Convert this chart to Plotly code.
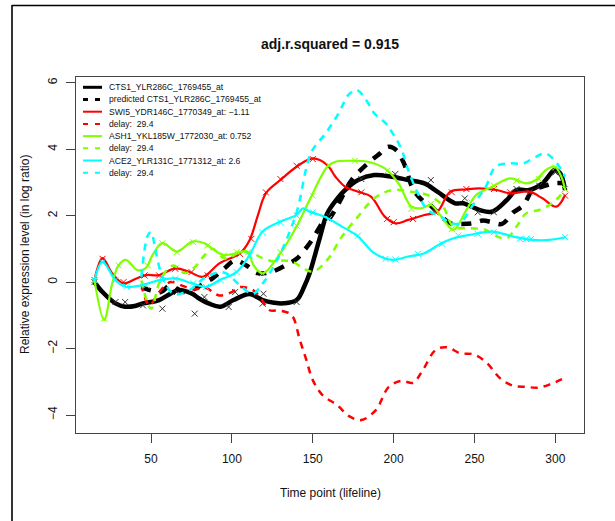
import plotly.graph_objects as go

# ---------------- data ----------------
cts1_t = [15, 20, 28, 34, 40, 45, 55, 62, 67, 75, 80, 86, 93, 101, 111, 119, 126, 132, 140, 145, 148, 154, 159, 165, 170, 178, 188, 199, 209, 219, 227, 238, 243, 253, 261, 270, 276, 284, 292, 299.6, 303, 306]
cts1_v = [0.0, -0.3, -0.64, -0.74, -0.72, -0.64, -0.54, -0.35, -0.24, -0.34, -0.5, -0.65, -0.74, -0.54, -0.36, -0.54, -0.62, -0.64, -0.54, -0.1, 0.26, 1.27, 2.07, 2.5, 2.77, 3.07, 3.22, 3.17, 3.07, 2.97, 2.72, 2.37, 2.37, 2.17, 2.12, 2.47, 2.77, 2.77, 2.97, 3.37, 3.27, 2.77]
cts1_obs_t = [15, 28, 34, 45, 57, 66, 77, 83, 98, 102, 119, 119.5, 140, 160, 180, 201, 223, 244, 252, 262, 276, 290, 300, 306]
cts1_obs_v = [0.0, -0.6, -0.6, -0.7, -0.8, -0.3, -0.95, -0.45, -0.75, -0.3, -0.65, -0.35, -0.6, 2.0, 3.1, 3.25, 3.07, 2.52, 2.1, 2.1, 2.8, 2.9, 3.3, 2.8]

pred_t = [44, 50, 56, 62, 70, 77, 84, 88, 95, 102, 109, 116, 124, 133, 140, 145, 150, 156, 160, 166, 174, 184, 191, 197, 202, 207, 212, 218, 223, 229, 235, 242, 249, 255, 261, 267, 274, 280, 286, 292, 299, 306]
pred_v = [-0.15, -0.25, -0.3, -0.1, -0.3, -0.2, 0.0, 0.11, 0.4, 0.65, 0.5, 0.27, 0.3, 0.5, 0.7, 0.97, 1.3, 1.77, 1.9, 2.37, 3.07, 3.57, 3.85, 4.07, 3.95, 3.5, 2.8, 2.45, 2.3, 2.0, 1.77, 1.75, 1.77, 1.85, 1.8, 1.75, 2.1, 2.3, 2.77, 2.87, 2.97, 2.97]

swi5_t = [15, 20, 26, 33, 41, 47, 55, 65, 73.5, 82, 92.5, 105, 111, 116, 121, 130, 140, 150, 159, 164, 170, 178, 186, 194.5, 201, 209, 219, 227, 235, 245, 253, 263.5, 272, 284, 292, 300.6, 306]
swi5_v = [0.06, 0.72, 0.26, -0.04, 0.11, 0.21, 0.21, 0.41, 0.31, 0.16, 0.57, 0.87, 1.27, 2.0, 2.67, 3.07, 3.47, 3.72, 3.52, 3.17, 2.87, 2.72, 2.57, 1.97, 1.77, 1.87, 2.02, 2.12, 2.72, 2.79, 2.82, 2.77, 2.67, 2.72, 2.52, 2.27, 2.62]
swi5_obs_t = [15, 20, 33, 46, 55, 65, 75, 85, 105, 112, 121, 130, 140, 150, 160, 170, 180, 196, 200, 212, 226, 236, 245, 262, 272, 284, 306]
swi5_obs_v = [0.06, 0.7, 0.0, 0.2, 0.2, 0.4, 0.3, 0.2, 0.85, 1.3, 2.7, 3.1, 3.5, 3.7, 3.5, 2.85, 2.7, 1.9, 1.8, 1.9, 2.1, 2.7, 2.8, 2.8, 2.7, 2.7, 2.6]

swi5_delay_t = [44, 49, 55, 62, 70, 76, 84, 92, 100, 105, 113, 118, 123, 130, 137, 142, 146, 150, 156, 165, 173, 180, 189, 197, 205, 212, 218, 226, 233, 241, 249, 257, 266, 274, 282, 289, 297, 305]
swi5_delay_v = [-0.07, -0.7, -0.3, 0.0, -0.12, -0.22, -0.18, -0.4, -0.3, -0.15, -0.24, -0.5, -0.84, -0.86, -1.0, -1.74, -2.34, -2.95, -3.40, -3.70, -4.05, -4.15, -3.85, -3.15, -2.97, -3.03, -2.65, -2.04, -1.96, -2.14, -2.17, -2.40, -2.90, -3.12, -3.15, -3.18, -3.07, -2.90]

ash1_t = [15, 21, 26, 30, 34.4, 41.6, 46.7, 51, 57, 66, 75.6, 83, 86, 94.5, 103, 109, 114, 119, 130, 140, 148, 159, 164, 174, 184, 194.5, 203, 211, 217, 223, 229.5, 237, 245, 251, 261, 272, 282, 288, 294, 299.6, 303.7, 306]
ash1_v = [0.06, -1.14, -0.04, 0.51, 0.67, 0.36, 0.42, 0.82, 1.17, 0.92, 1.22, 1.17, 1.07, 0.82, 0.87, 0.92, 0.46, 0.26, 0.87, 1.67, 2.47, 3.47, 3.62, 3.65, 3.62, 3.42, 2.97, 2.27, 2.22, 2.32, 1.97, 1.57, 2.17, 2.62, 2.87, 3.12, 2.97, 3.07, 3.37, 3.47, 3.17, 2.77]
ash1_obs_t = [15, 21, 30, 48, 57, 66, 76, 85, 95, 103, 110, 119, 130, 140, 150, 160, 176, 196, 211, 223, 236, 248, 262, 276, 290, 300, 306]
ash1_obs_v = [0.06, -1.1, 0.5, 0.5, 1.17, 0.9, 1.2, 1.1, 0.8, 0.9, 0.9, 0.26, 0.9, 1.7, 2.6, 3.5, 3.65, 3.35, 2.2, 2.35, 1.6, 2.4, 2.9, 3.05, 3.1, 3.45, 2.8]

ash1_delay_t = [44, 50, 55, 60, 64, 71, 77, 82, 88, 96, 105, 112, 119, 126, 132, 138, 143, 150, 159, 168, 178, 188, 199, 211, 221, 230, 237, 247, 257, 264, 270, 276, 282, 290, 298, 306]
ash1_delay_v = [0.05, -0.8, -0.03, 0.38, 0.5, 0.27, 0.45, 0.75, 1.0, 0.7, 0.9, 0.88, 0.72, 0.62, 0.65, 0.6, 0.45, 0.31, 0.67, 1.37, 1.97, 2.52, 2.77, 2.72, 2.62, 2.32, 1.67, 1.62, 1.57, 1.37, 1.32, 1.67, 2.07, 2.17, 2.37, 2.77]

ace2_t = [15, 20, 28, 34.4, 44.7, 55, 65, 75.6, 84, 92.5, 103, 111, 119, 130, 140, 144, 148, 157, 168, 178, 188, 199, 209, 219, 229.5, 237, 247, 261, 274, 286, 296.5, 306]
ace2_v = [0.06, 0.61, 0.06, -0.14, -0.09, 0.06, 0.11, -0.04, -0.14, 0.06, 0.31, 0.82, 1.52, 1.82, 2.02, 2.22, 2.12, 1.97, 1.67, 1.37, 0.87, 0.67, 0.77, 0.87, 1.17, 1.32, 1.42, 1.52, 1.37, 1.27, 1.27, 1.35]
ace2_obs_t = [15, 20, 28, 35, 47, 57, 65, 76, 84, 93, 103, 111, 119, 130, 140, 150, 160, 178, 195, 201, 215, 230, 240, 252, 262, 278, 282, 285, 306]
ace2_obs_v = [0.06, 0.6, 0.06, -0.14, -0.1, 0.06, 0.1, -0.04, -0.15, 0.06, 0.3, 0.8, 1.5, 1.8, 2.0, 2.1, 1.9, 1.4, 0.7, 0.68, 0.85, 1.15, 1.4, 1.45, 1.5, 1.3, 1.3, 1.3, 1.35]

ace2_delay_t = [44, 48, 50, 53, 57, 64, 74, 84, 95, 105, 113, 118, 122, 130, 140, 149, 158, 166, 172, 177, 183, 188, 195, 200, 205, 209, 215, 221, 229, 236, 241, 249, 257, 263, 272, 280, 288, 294, 301, 306]
ace2_delay_v = [0.16, 1.4, 1.5, 0.9, 0.16, -0.36, -0.23, 0.16, 0.29, -0.1, -0.36, -0.1, 0.16, 0.87, 2.1, 3.9, 4.48, 5.08, 5.63, 5.78, 5.48, 5.08, 4.78, 4.43, 3.98, 3.37, 2.67, 2.17, 1.97, 1.77, 1.77, 2.32, 2.87, 3.47, 3.57, 3.57, 3.77, 3.87, 3.57, 3.17]

legend_labels = ["CTS1_YLR286C_1769455_at", "predicted CTS1_YLR286C_1769455_at",
                 "SWI5_YDR146C_1770349_at: \u22121.11", "delay:  29.4",
                 "ASH1_YKL185W_1772030_at: 0.752", "delay:  29.4",
                 "ACE2_YLR131C_1771312_at: 2.6", "delay:  29.4"]
title_text = "adj.r.squared = 0.915"
x_title = "Time point (lifeline)"
y_title = "Relative expression level (in log ratio)"
x_ticks = [50, 100, 150, 200, 250, 300]
y_ticks = [-4, -2, 0, 2, 4, 6]

# ---------------- styling ----------------
BLACK = "#000000"
RED = "#FF0000"
GREEN = "#7FFF00"
CYAN = "#00FFFF"
FONT = "Liberation Sans, Arial, sans-serif"

W, H = 615, 521
ML, MT = 76, 77
PW, PH = 508, 356
MR = W - ML - PW
MB = H - MT - PH


def px_x(p):
    return (p - ML) / PW


def px_y(p):
    return (H - MB - p) / PH


fig = go.Figure()


def add_line(t, v, color, width, dash="solid"):
    fig.add_trace(go.Scatter(x=t, y=v, mode="lines",
                             line=dict(color=color, width=width, dash=dash, shape="spline", smoothing=1.0),
                             showlegend=False, hoverinfo="skip"))


def add_obs(t, v, color):
    fig.add_trace(go.Scatter(x=t, y=v, mode="markers",
                             marker=dict(symbol="x-thin", size=6, line=dict(color=color, width=1.0)),
                             showlegend=False, hoverinfo="skip"))


series = [
    (cts1_t, cts1_v, BLACK, 4.5, "solid", (cts1_obs_t, cts1_obs_v, "#333333")),
    (pred_t, pred_v, BLACK, 4.5, "10px,9px", None),
    (swi5_t, swi5_v, RED, 2.2, "solid", (swi5_obs_t, swi5_obs_v, RED)),
    (swi5_delay_t, swi5_delay_v, RED, 2.5, "7px,6px", None),
    (ash1_t, ash1_v, GREEN, 2.2, "solid", (ash1_obs_t, ash1_obs_v, GREEN)),
    (ash1_delay_t, ash1_delay_v, GREEN, 2.5, "7px,6px", None),
    (ace2_t, ace2_v, CYAN, 2.2, "solid", (ace2_obs_t, ace2_obs_v, CYAN)),
    (ace2_delay_t, ace2_delay_v, CYAN, 2.5, "7px,6px", None),
]
for t, v, c, w, d, obs in series:
    add_line(t, v, c, w, d)
    if obs is not None:
        add_obs(*obs)

shapes = []
annotations = []

# custom legend (no box), top-left inside the plot
leg_colors = [BLACK, BLACK, RED, RED, GREEN, GREEN, CYAN, CYAN]
leg_dash = ["solid", "5px,7px"] * 4
leg_width = [3, 3, 2, 2, 2, 2, 2, 2]
for i, lab in enumerate(legend_labels):
    ypx = 87.3 + 12.2 * i
    shapes.append(dict(type="line", xref="paper", yref="paper",
                       x0=px_x(83), x1=px_x(102), y0=px_y(ypx), y1=px_y(ypx),
                       line=dict(color=leg_colors[i], width=leg_width[i], dash=leg_dash[i])))
    annotations.append(dict(xref="paper", yref="paper", x=px_x(107), y=px_y(ypx),
                            text=lab, showarrow=False, xanchor="left", yanchor="middle",
                            font=dict(family=FONT, size=8.6, color="#111111")))

# outer figure frame (left and top edges visible)
shapes.append(dict(type="line", xref="paper", yref="paper", x0=px_x(12), x1=px_x(12),
                   y0=px_y(5), y1=px_y(540), line=dict(color="#000000", width=1.6)))
shapes.append(dict(type="line", xref="paper", yref="paper", x0=px_x(12), x1=px_x(640),
                   y0=px_y(5.5), y1=px_y(5.5), line=dict(color="#000000", width=1.6)))

annotations.append(dict(xref="paper", yref="paper", x=px_x(330), y=px_y(44), text="<b>" + title_text + "</b>",
                        showarrow=False, xanchor="center", yanchor="middle",
                        font=dict(family=FONT, size=14, color="#111111")))
annotations.append(dict(xref="paper", yref="paper", x=px_x(330), y=px_y(493), text=x_title,
                        showarrow=False, xanchor="center", yanchor="middle",
                        font=dict(family=FONT, size=12, color="#111111")))
annotations.append(dict(xref="paper", yref="paper", x=px_x(25), y=px_y(255), text=y_title, textangle=-90,
                        showarrow=False, xanchor="center", yanchor="middle",
                        font=dict(family=FONT, size=12, color="#111111")))

axis_common = dict(showgrid=False, zeroline=False, showline=True, mirror=True,
                   linecolor="#444444", linewidth=1, ticks="outside", ticklen=9,
                   tickcolor="#444444", tickwidth=1,
                   tickfont=dict(family=FONT, size=12, color="#111111"))

fig.update_layout(
    width=W, height=H,
    margin=dict(l=ML, r=MR, t=MT, b=MB),
    paper_bgcolor="white", plot_bgcolor="white",
    showlegend=False,
    xaxis=dict(range=[3.6, 317.7], tickvals=x_ticks, ticklabelstandoff=6, **axis_common),
    yaxis=dict(range=[-4.54, 6.17], tickvals=y_ticks, tickangle=-90, ticklabelstandoff=4, **axis_common),
    shapes=shapes,
    annotations=annotations,
)

# remove the browser's default page margin so the figure sits at the window origin
fig.write_html("out.html", config={"displayModeBar": False},
               post_script="document.body.style.margin='0';document.body.style.overflow='hidden';")
